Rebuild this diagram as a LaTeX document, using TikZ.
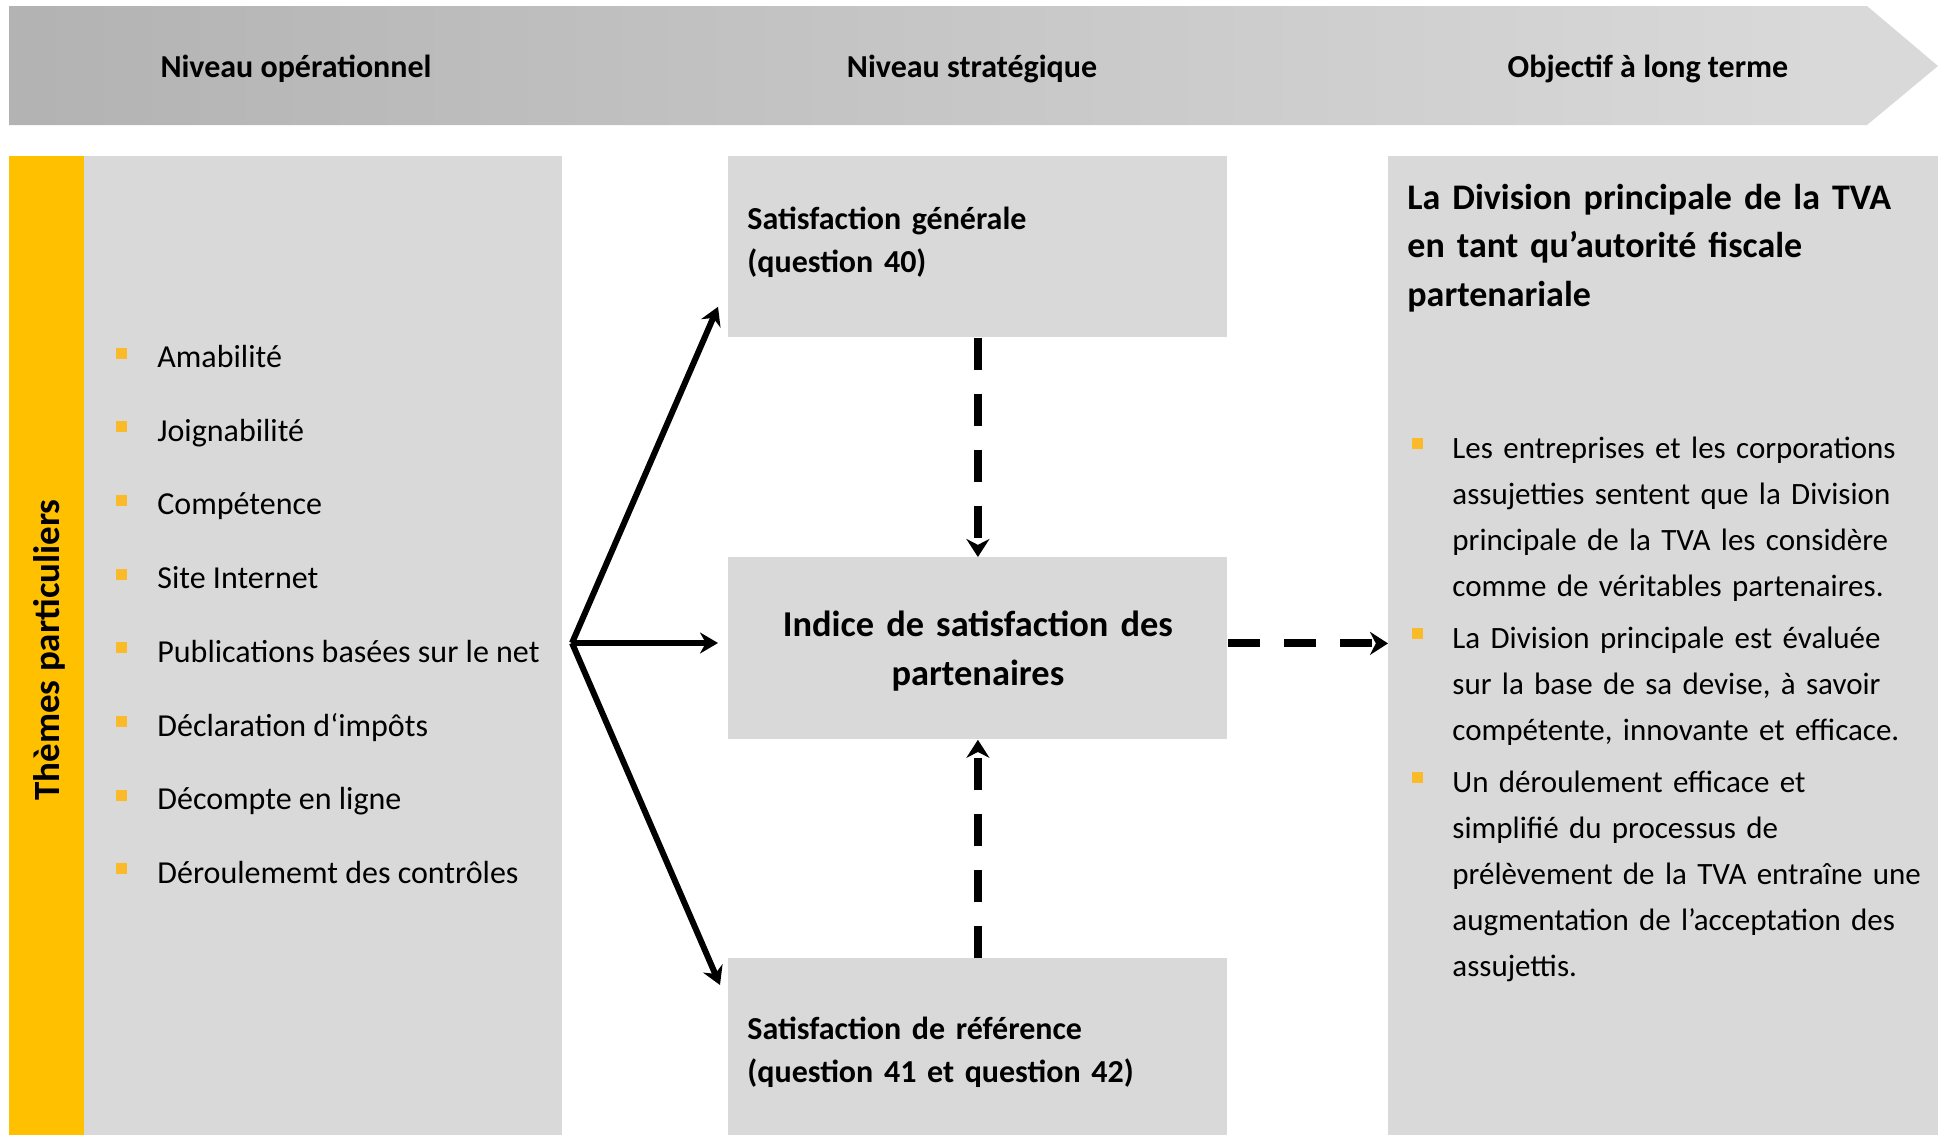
\documentclass[tikz,border=0pt]{standalone}
\usepackage{fontspec}
\setmainfont{Carlito}
\usepackage{tikz}
\usetikzlibrary{arrows.meta}
\usetikzlibrary{positioning}
\usetikzlibrary{calc}

\definecolor{PanelGray}{RGB}{217,217,217}
\definecolor{StripYellow}{RGB}{255,192,0}
\definecolor{BulletOrange}{RGB}{251,186,42}
\definecolor{HeadDark}{RGB}{158,158,158}
\pgfdeclarehorizontalshading{headshade}{100bp}{color(0bp)=(HeadDark); color(72bp)=(PanelGray); color(100bp)=(PanelGray)}

\tikzset{
  panel/.style={fill=PanelGray, inner sep=0pt, anchor=north west},
  headtext/.style={font=\bfseries\fontsize{16}{19}\selectfont, anchor=base},
  listtext/.style={font=\fontsize{16}{23.1}\selectfont, anchor=base west, inner sep=0pt},
  objtext/.style={listtext, font=\fontsize{15.5}{23.1}\selectfont, text width=250pt, align=left},
  bulletsq/.style={fill=BulletOrange, minimum size=5.5pt, inner sep=0pt},
  boxtext/.style={text width=230.5pt, align=left, inner sep=0pt, font=\bfseries\fontsize{16}{21.5}\selectfont},
  solidarrow/.style={line width=3pt, -{Stealth[length=9pt, width=10.5pt]}},
  dasharrow/.style={line width=4pt, dash pattern=on 16pt off 12pt, -{Stealth[length=9pt, width=11.5pt]}},
}

\begin{document}
\begin{tikzpicture}[x=0.5pt, y=-0.5pt]
\useasboundingbox (0,0) rectangle (1945,1135);

% header band
\shade[shading=headshade] (9,6) -- (1867,6) -- (1938,66) -- (1867,125) -- (9,125) -- cycle;
\node[headtext] (hop) at (296,77) {Niveau opérationnel};
\node[headtext] (hst) at (972,77) {Niveau stratégique};
\node[headtext] (hlt) at (1648,77) {Objectif à long terme};

% left column
\node[panel, fill=StripYellow, minimum width=37.5pt, minimum height=489.5pt] (strip) at (9,156) {};
\node[panel, minimum width=239pt, minimum height=489.5pt] (themes) at (84,156) {};
\node[rotate=90, font=\bfseries\fontsize{18.5}{22}\selectfont] (themlbl) at ([xshift=1pt, yshift=-2pt]strip.center) {Thèmes particuliers};

\foreach \txt [count=\i] in {Amabilité, Joignabilité, Compétence, Site Internet,
    Publications basées sur le net, Déclaration d‘impôts, Décompte en ligne,
    Déroulememt des contrôles} {
  \node[listtext] (it\i) at (157, {367.5+73.7*(\i-1)}) {\txt};
  \node[bulletsq] (bu\i) at ([xshift=-18pt, yshift=7.25pt]it\i.base west) {};
}

% middle column
\node[panel, minimum width=249.5pt, minimum height=90.5pt] (gen) at (728,156) {};
\node[panel, minimum width=249.5pt, minimum height=91pt] (idx) at (728,557) {};
\node[panel, minimum width=249.5pt, minimum height=88.5pt] (ref) at (728,958) {};
\node[boxtext] (gentxt) at ([yshift=2.5pt]gen.center) {Satisfaction générale\\(question 40)};
\node[boxtext, align=center, font=\bfseries\fontsize{18.2}{24.5}\selectfont] (idxtxt)
  at ([yshift=-1.5pt]idx.center) {Indice de satisfaction des\\partenaires};
\node[boxtext] (reftxt) at ([yshift=-2.5pt]ref.center) {Satisfaction de référence\\(question 41 et question 42)};

% right column
\node[panel, minimum width=275pt, minimum height=489.5pt] (obj) at (1388,156) {};
\node[anchor=base west, inner sep=0pt, text width=262pt, align=left,
  font=\bfseries\fontsize{18}{24.25}\selectfont] (objtitle) at (1407,209)
  {La Division principale de la TVA\\en tant qu’autorité fiscale\\partenariale};

\node[objtext] (ob1) at (1452,458)
  {Les entreprises et les corporations\\assujetties sentent que la Division\\principale de la TVA les considère\\comme de véritables partenaires.};
\node[objtext] (ob2) at (1452,648)
  {La Division principale est évaluée\\sur la base de sa devise, à savoir\\compétente, innovante et efficace.};
\node[objtext] (ob3) at (1452,792)
  {Un déroulement efficace et\\simplifié du processus de\\prélèvement de la TVA entraîne une\\augmentation de l’acceptation des\\assujettis.};
\foreach \n in {ob1, ob2, ob3}
  \node[bulletsq] at ([xshift=-17.25pt, yshift=7.5pt]\n.base west) {};

% connectors
\coordinate (hub) at (572,643);
\draw[solidarrow] (hub) -- ([xshift=-5pt, yshift=15.5pt]gen.south west);
\draw[solidarrow] (hub) -- ($(hub -| idx.west)+(-10,0)$);
\draw[solidarrow] (hub) -- ([xshift=-4pt, yshift=-13.5pt]ref.north west);
\draw[dasharrow] (gen.south) -- (idx.north);
\draw[dasharrow] (ref.north) -- (idx.south);
\draw[dasharrow] ([yshift=2.5pt]idx.east) -- ([yshift=2.5pt]idx.east -| obj.west);
\end{tikzpicture}
\end{document}
